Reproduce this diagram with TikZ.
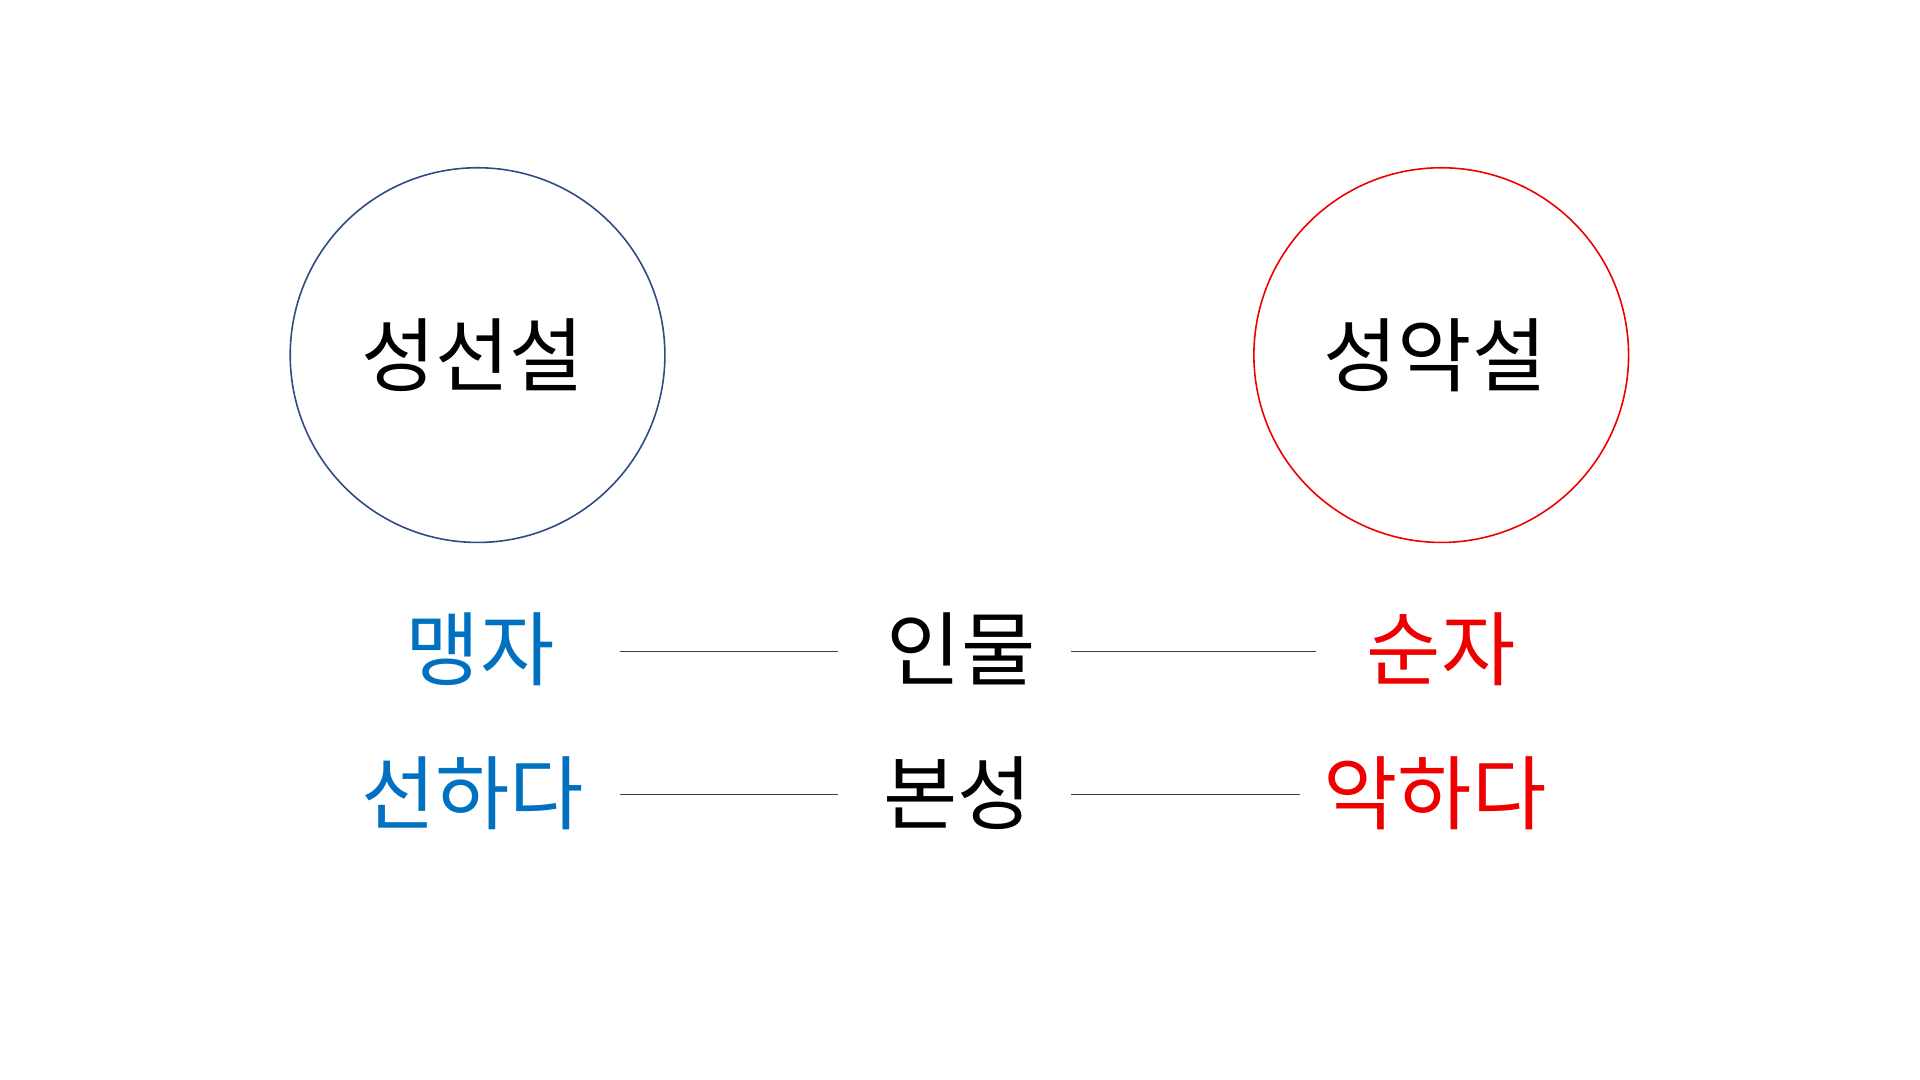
\documentclass[tikz,border=0pt]{standalone}
\usepackage{fontspec}
\newfontfamily\cjk{Noto Sans CJK KR}
\definecolor{cblue}{HTML}{2F4B82}
\definecolor{tblue}{HTML}{0070C0}
\definecolor{tred}{HTML}{EE0000}
\tikzset{lbl/.style={font=\cjk\fontsize{66}{70}\selectfont,inner sep=0pt},
conn/.style={draw=black!75,line width=0.8pt}}
\begin{document}
\begin{tikzpicture}[x=1pt,y=-1pt]
\useasboundingbox (0,0) rectangle (1568,882);
\draw[cblue,line width=1.3pt] (390,290) circle (153);
\draw[tred,line width=1.3pt] (1177,290) circle (153);
\node[lbl] (a) at (386,290) {성선설};
\node[lbl] (b) at (1172,290) {성악설};
\node[lbl,text=tblue] (m) at (392,530) {맹자};
\node[lbl] (i) at (785,530) {인물};
\node[lbl,text=tred] (s) at (1177,530) {순자};
\node[lbl,text=tblue] (g) at (386,648) {선하다};
\node[lbl] (p) at (782,648) {본성};
\node[lbl,text=tred] (e) at (1172,648) {악하다};
\coordinate (l1a) at (506,532); \coordinate (l1b) at (684,532);
\coordinate (l2a) at (875,532); \coordinate (l2b) at (1075,532);
\coordinate (l3a) at (506,649); \coordinate (l3b) at (684,649);
\coordinate (l4a) at (875,649); \coordinate (l4b) at (1062,649);
\draw[conn] (l1a) -- (l1b); \draw[conn] (l2a) -- (l2b);
\draw[conn] (l3a) -- (l3b); \draw[conn] (l4a) -- (l4b);
\end{tikzpicture}
\end{document}
